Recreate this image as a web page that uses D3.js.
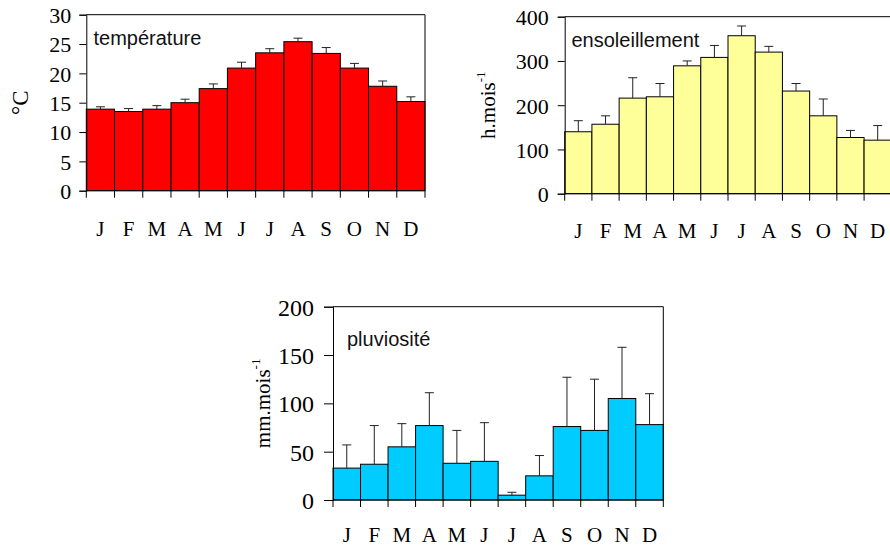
<!DOCTYPE html>
<html><head><meta charset="utf-8">
<script src="https://cdn.jsdelivr.net/npm/d3@7"></script>
<style>
body{margin:0;background:#fff;}
svg{display:block;}
</style></head>
<body>
<svg id="c" width="890" height="548"></svg>
<script>
const months = ["J","F","M","A","M","J","J","A","S","O","N","D"];

const tempValues = [13.9,13.5,13.9,15.0,17.4,20.9,23.5,25.4,23.4,20.9,17.8,15.2];
const tempErrTop = [14.3,14.0,14.5,15.6,18.2,21.9,24.2,26.0,24.4,21.7,18.7,16.0];
const tempTicks = [0,5,10,15,20,25,30];

const sunValues = [140,157,216,219,289,308,357,320,232,176,127,121];
const sunErrTop = [165,176,262,249,300,335,379,333,249,214,143,154];
const sunTicks = [0,100,200,300,400];

const rainValues = [33,37,55,77,38,40,5,25,76,72,105,78];
const rainErrTop = [57,77,79,111,72,80,8,46,127,125,158,110];
const rainTicks = [0,50,100,150,200];

const svg = d3.select("#c");

function drawChart(o){
  const g = svg.append("g");
  const x = d3.scaleBand().domain(d3.range(12)).range([o.x0,o.x1]).padding(0);
  const y = d3.scaleLinear().domain([0,o.max]).range([o.yB,o.yT]);

  g.selectAll("rect.bar").data(o.values).join("rect")
    .attr("x",(d,i)=>x(i)).attr("width",x.bandwidth())
    .attr("y",d=>y(d)).attr("height",d=>y(0)-y(d))
    .attr("fill",o.color).attr("stroke","#000").attr("stroke-width",1);

  const eg = g.append("g").attr("stroke","#222").attr("stroke-width",1);
  o.err.forEach((e,i)=>{
    const cx = x(i)+x.bandwidth()/2;
    eg.append("line").attr("x1",cx).attr("x2",cx).attr("y1",y(o.values[i])).attr("y2",y(e));
    eg.append("line").attr("x1",cx-4.5).attr("x2",cx+4.5).attr("y1",y(e)).attr("y2",y(e));
  });

  g.append("path").attr("d",`M${o.x0},${o.yT}H${o.x1}V${o.yB}`)
    .attr("fill","none").attr("stroke","#000").attr("stroke-width",1);

  const ya = g.append("g").attr("transform",`translate(${o.x0},0)`)
    .call(d3.axisLeft(y).tickValues(o.ticks).tickSize(o.tickLen).tickPadding(o.tickPad));
  ya.select(".domain").attr("stroke","#000");
  ya.selectAll("text").attr("font-family","'Liberation Serif','Times New Roman',serif")
    .attr("font-size",o.tickFont).attr("fill","#000").attr("dy","0.36em");
  ya.selectAll(".tick line").attr("stroke","#000");

  const bounds = d3.range(13).map(i=> i<12 ? x(i) : o.x1);
  const xa = g.append("g");
  xa.append("line").attr("x1",o.x0).attr("x2",o.x1).attr("y1",o.yB).attr("y2",o.yB).attr("stroke","#000");
  xa.selectAll("line.t").data(bounds).join("line").attr("class","t")
    .attr("x1",d=>d).attr("x2",d=>d).attr("y1",o.yB).attr("y2",o.yB+7).attr("stroke","#000");
  xa.selectAll("text").data(months).join("text")
    .attr("x",(d,i)=>x(i)+x.bandwidth()/2).attr("y",o.monthY)
    .attr("text-anchor","middle")
    .attr("font-family","'Liberation Serif','Times New Roman',serif")
    .attr("font-size",21).text(d=>d);

  g.append("text").attr("x",o.titleX).attr("y",o.titleY)
    .attr("font-family","'Liberation Sans',Arial,sans-serif").attr("font-size",20)
    .attr("fill","#111")
    .text(o.title);

  const yl = g.append("text")
    .attr("transform",`translate(${o.labelX},${(o.yT+o.yB)/2}) rotate(-90)`)
    .attr("text-anchor","middle")
    .attr("font-family","'Liberation Serif','Times New Roman',serif")
    .attr("font-size",o.labelFont);
  yl.append("tspan").text(o.label);
  if(o.sup){
    yl.append("tspan").attr("font-size",13).attr("dy","-0.75em").text(o.sup);
  }
}

drawChart({x0:86.3,x1:425,yT:14.7,yB:190.7,max:30,values:tempValues,err:tempErrTop,ticks:tempTicks,
  color:"#ff0000",title:"température",titleX:93.5,titleY:45,label:"°C",sup:null,labelX:28,labelFont:23,
  monthY:236,tickLen:7,tickPad:8,tickFont:22});

drawChart({x0:564.7,x1:891.3,yT:16.7,yB:193.7,max:400,values:sunValues,err:sunErrTop,ticks:sunTicks,
  color:"#ffff99",title:"ensoleillement",titleX:571.5,titleY:47,label:"h.mois",sup:"-1",labelX:495,labelFont:21,
  monthY:238,tickLen:7,tickPad:9,tickFont:22});

drawChart({x0:333,x1:663.3,yT:306.7,yB:500,max:200,values:rainValues,err:rainErrTop,ticks:rainTicks,
  color:"#00ccff",title:"pluviosité",titleX:347,titleY:346,label:"mm.mois",sup:"-1",labelX:270,labelFont:21,
  monthY:542,tickLen:9,tickPad:10,tickFont:24});
</script>
</body></html>
